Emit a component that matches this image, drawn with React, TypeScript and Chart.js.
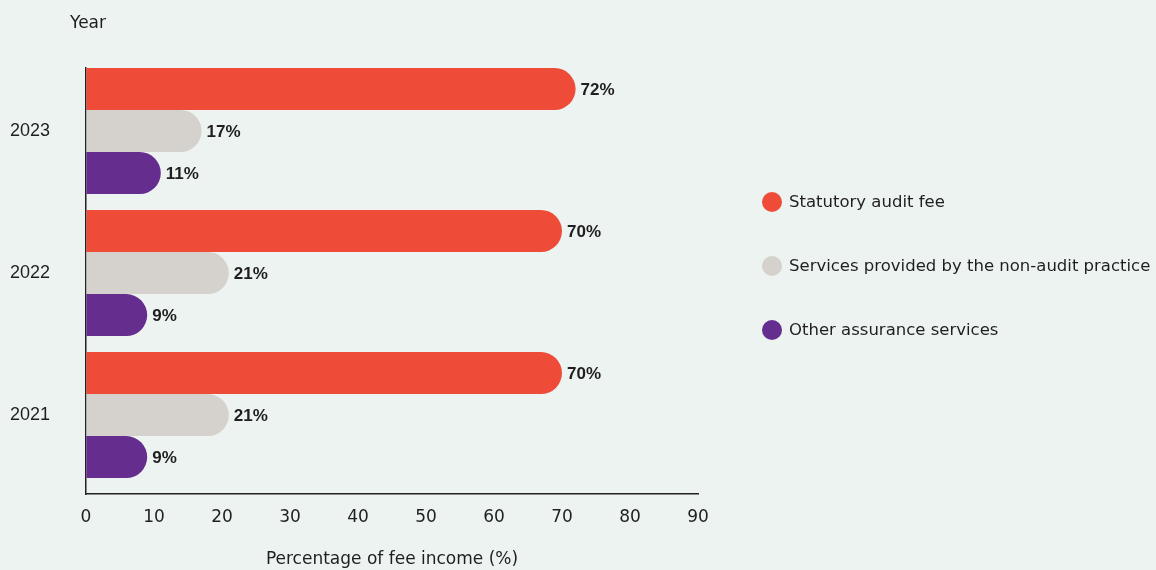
import React, { useEffect, useRef } from "react";
import { Chart, registerables } from "chart.js";

Chart.register(...registerables);

const categories = ["2023", "2022", "2021"];
const seriesNames = [
  "Statutory audit fee",
  "Services provided by the non-audit practice",
  "Other assurance services",
];
const statutoryAudit = [72, 70, 70];
const nonAuditServices = [17, 21, 21];
const otherAssurance = [11, 9, 9];
const seriesColors = ["#EF4B39", "#D5D1CC", "#652D8E"];
const xTickValues = [0, 10, 20, 30, 40, 50, 60, 70, 80, 90];
const xTitle = "Percentage of fee income (%)";
const yTitle = "Year";

const FONT = "'DejaVu Sans', sans-serif";
const FONT2 = "'Liberation Sans', Arial, sans-serif";
const TEXT = "#1f1f1f";
const BG = "#EDF3F1";

export default function App() {
  const ref = useRef<HTMLCanvasElement | null>(null);

  useEffect(() => {
    if (!ref.current) return;
    const seriesValues = [statutoryAudit, nonAuditServices, otherAssurance];

    const bgPlugin = {
      id: "bg",
      beforeDraw(chart: any) {
        const { ctx, width, height } = chart;
        ctx.save();
        ctx.fillStyle = BG;
        ctx.fillRect(0, 0, width, height);
        ctx.restore();
      },
    };

    const labelsPlugin = {
      id: "valueLabels",
      afterDatasetsDraw(chart: any) {
        const { ctx } = chart;
        ctx.save();
        ctx.font = `bold 17px ${FONT2}`;
        ctx.fillStyle = TEXT;
        ctx.textAlign = "left";
        ctx.textBaseline = "middle";
        chart.data.datasets.forEach((ds: any, di: number) => {
          const meta = chart.getDatasetMeta(di);
          meta.data.forEach((bar: any, i: number) => {
            ctx.fillText(`${ds.data[i].x}%`, bar.x + 5, bar.y + 1);
          });
        });
        ctx.restore();
      },
    };

    const legendPlugin = {
      id: "sideLegend",
      afterDraw(chart: any) {
        const { ctx, chartArea } = chart;
        ctx.save();
        ctx.font = `400 16.5px ${FONT}`;
        ctx.textAlign = "left";
        ctx.textBaseline = "middle";
        const cx = chartArea.right + 74;
        const startY = chartArea.top + 134;
        chart.data.datasets.forEach((ds: any, di: number) => {
          const y = startY + di * 64;
          ctx.beginPath();
          ctx.arc(cx, y, 10, 0, Math.PI * 2);
          ctx.fillStyle = ds.backgroundColor;
          ctx.fill();
          ctx.fillStyle = TEXT;
          ctx.fillText(ds.label, cx + 17, y + 1);
        });
        // y-axis title
        ctx.font = `400 17px ${FONT}`;
        ctx.fillText(yTitle, chartArea.left - 16, 24);
        ctx.restore();
      },
    };

    const chart = new Chart(ref.current, {
      type: "bar",
      data: {
        datasets: seriesValues.map((vals, si) => ({
          label: seriesNames[si],
          data: vals.map((v, i) => ({ x: v, y: i })),
          backgroundColor: seriesColors[si],
          borderWidth: 0,
          borderRadius: 21,
          borderSkipped: "start",
          categoryPercentage: 126 / 142,
          barPercentage: 1,
        })),
      },
      options: {
        indexAxis: "y",
        responsive: false,
        animation: false,
        devicePixelRatio: 1,
        events: [],
        layout: { padding: { top: 68, right: 458, left: 0, bottom: 0 } },
        plugins: {
          legend: { display: false },
          tooltip: { enabled: false },
          title: { display: false },
        },
        scales: {
          x: {
            type: "linear",
            min: 0,
            max: 90,
            afterBuildTicks: (scale: any) => {
              scale.ticks = xTickValues.map((v) => ({ value: v }));
            },
            ticks: {
              padding: 13,
              color: TEXT,
              font: { family: FONT, size: 17 },
            },
            grid: { color: "transparent", drawTicks: false },
            border: { display: true, color: "#222222", width: 1.5 },
            title: {
              display: true,
              text: xTitle,
              color: TEXT,
              font: { family: FONT, size: 17 },
              padding: { top: 0, bottom: 0 },
            },
            afterFit: (scale: any) => {
              scale.height = 76;
            },
          },
          y: {
            type: "linear",
            reverse: true,
            offset: false,
            min: -0.4437,
            max: 2.556,
            afterBuildTicks: (scale: any) => {
              scale.ticks = categories.map((_, i) => ({ value: i }));
            },
            ticks: {
              padding: 36,
              color: TEXT,
              font: { family: FONT2, size: 18 },
              callback: (v: any) => categories[v as number] ?? "",
            },
            grid: { color: "transparent", drawTicks: false, offset: false },
            border: { display: true, color: "#222222", width: 1.5 },
            afterFit: (scale: any) => {
              scale.width = 86;
            },
          },
        },
      },
      plugins: [bgPlugin, labelsPlugin, legendPlugin],
    } as any);

    return () => chart.destroy();
  }, []);

  return (
    <div
      style={{
        position: "fixed",
        left: 0,
        top: 0,
        width: 1156,
        height: 570,
        background: BG,
      }}
    >
      <canvas ref={ref} width={1156} height={570} />
    </div>
  );
}
